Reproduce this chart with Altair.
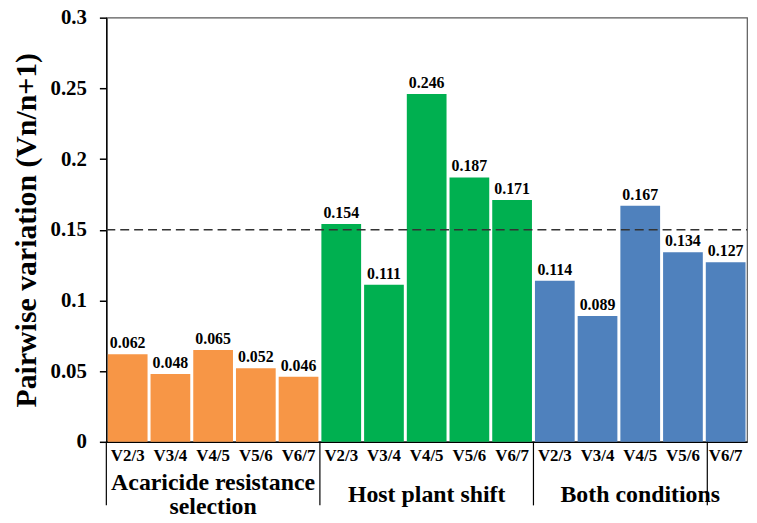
import altair as alt
import pandas as pd

groups = ["Acaricide resistance selection", "Host plant shift", "Both conditions"]
two_line_label = "Acaricide resistance\nselection"
one_line_labels = ["Host plant shift", "Both conditions"]
pairs = ["V2/3", "V3/4", "V4/5", "V5/6", "V6/7"]
acaricide = [0.062, 0.048, 0.065, 0.052, 0.046]
host = [0.154, 0.111, 0.246, 0.187, 0.171]
both = [0.114, 0.089, 0.167, 0.134, 0.127]
colors = ["#F79646", "#00B050", "#4F81BD"]
threshold = 0.15
y_ticks = [0, 0.05, 0.1, 0.15, 0.2, 0.25, 0.3]

rows = []
for gi, (g, vals) in enumerate(zip(groups, [acaricide, host, both])):
    for p, v in zip(pairs, vals):
        rows.append({"key": f"{gi}|{p}", "pair": p, "group": g, "value": v})
df = pd.DataFrame(rows)
order = list(df["key"])

grp2_df = pd.DataFrame({"key": [f"0|{pairs[2]}"], "label": [two_line_label]})
grp1_df = pd.DataFrame({"key": [f"{gi}|{pairs[2]}" for gi in (1, 2)], "label": one_line_labels})
left_df = pd.DataFrame({"key": [f"{gi}|{pairs[0]}" for gi in range(3)]})
right_df = pd.DataFrame({"key": [f"2|{pairs[-1]}"]})
thr_df = pd.DataFrame({"y": [threshold]})

W, H = 645, 427
pad_inner = 0.07
step = W / 15
half_gap = pad_inner * step / 2
FONT = "Liberation Serif, Times New Roman, Times, DejaVu Serif, serif"

xscale = alt.Scale(domain=order, paddingInner=pad_inner, paddingOuter=pad_inner / 2)
yscale = alt.Scale(domain=[0, 0.3], nice=False)

x_enc = alt.X(
    "key:N", sort=order, scale=xscale,
    axis=alt.Axis(
        title=None, labelExpr="split(datum.value, '|')[1]", ticks=False,
        labelAngle=0, labelFont=FONT, labelFontSize=17, labelFontWeight="bold",
        labelColor="black", labelPadding=6, domainColor="black", domainWidth=1.5,
    ),
)

bars = alt.Chart(df).mark_bar().encode(
    x=x_enc,
    y=alt.Y(
        "value:Q", scale=yscale,
        axis=alt.Axis(
            title="Pairwise variation (Vn/n+1)", values=y_ticks, format=".2~f",
            grid=False, tickSize=7, tickColor="black", tickWidth=1.5,
            domainColor="black", domainWidth=1.5,
            labelFont=FONT, labelFontSize=21, labelFontWeight="bold", labelColor="black",
            labelPadding=13, titleFont=FONT, titleFontSize=30, titleFontWeight="bold",
            titleColor="black", titlePadding=9,
        ),
    ),
    color=alt.Color("group:N", scale=alt.Scale(domain=groups, range=colors), legend=None),
)

values = alt.Chart(df).mark_text(
    font=FONT, fontSize=16, fontWeight="bold", color="black", baseline="alphabetic", dy=-6
).encode(
    x=alt.X("key:N", sort=order, scale=xscale),
    y=alt.Y("value:Q", scale=yscale),
    text=alt.Text("value:Q", format=".3f"),
)

thr = alt.Chart(thr_df).mark_rule(color="#333333", strokeDash=[9, 5], strokeWidth=1.5).encode(
    y=alt.Y("y:Q", scale=yscale), x=alt.value(0), x2=alt.value(W)
)

sep_left = alt.Chart(left_df).mark_rule(color="black", strokeWidth=1.2).encode(
    x=alt.X("key:N", sort=order, scale=xscale, bandPosition=0),
    xOffset=alt.value(-half_gap),
    y=alt.value(H), y2=alt.value(H + 64),
)
sep_right = alt.Chart(right_df).mark_rule(color="black", strokeWidth=1.2).encode(
    x=alt.X("key:N", sort=order, scale=xscale, bandPosition=1),
    xOffset=alt.value(half_gap),
    y=alt.value(H), y2=alt.value(H + 64),
)

glabel_style = dict(font=FONT, fontSize=24, fontWeight="bold", color="black",
                    baseline="middle", lineBreak="\n", lineHeight=24)
glabels2 = alt.Chart(grp2_df).mark_text(**glabel_style).encode(
    x=alt.X("key:N", sort=order, scale=xscale),
    y=alt.value(H + 42),
    text="label:N",
)
glabels1 = alt.Chart(grp1_df).mark_text(**glabel_style).encode(
    x=alt.X("key:N", sort=order, scale=xscale),
    y=alt.value(H + 54),
    text="label:N",
)

chart = alt.layer(bars, values, thr, sep_left, sep_right, glabels2, glabels1).properties(
    width=W, height=H,
    autosize=alt.AutoSizeParams(type="none"),
    padding={"left": 99, "top": 8, "right": 2, "bottom": 78},
).configure_view(stroke="#595959", strokeWidth=1.2)

chart.save("out.html", embed_options={"renderer": "svg", "actions": False})
